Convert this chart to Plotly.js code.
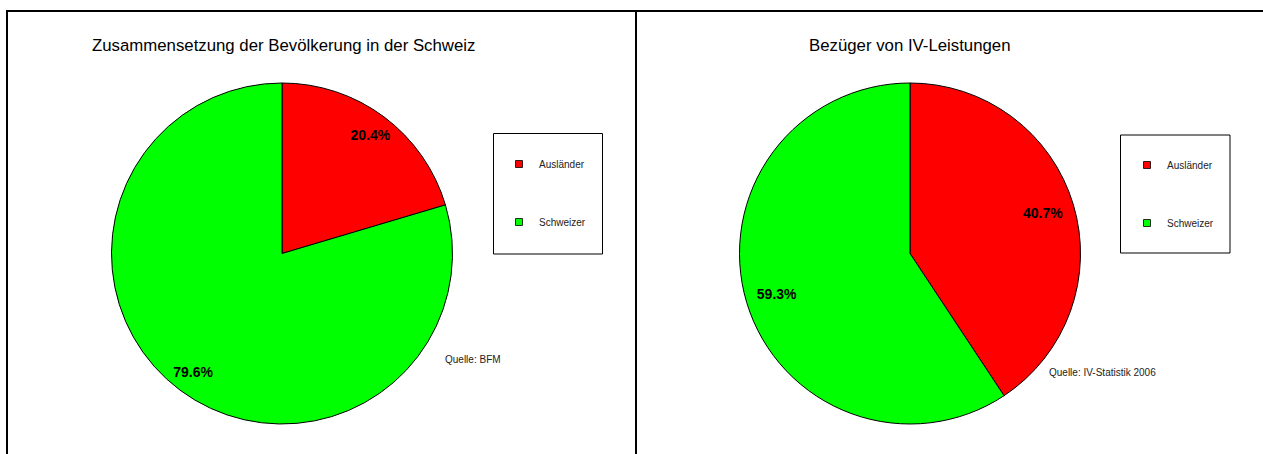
<!DOCTYPE html>
<html>
<head>
<meta charset="utf-8">
<script src="https://cdn.plot.ly/plotly-3.0.1.min.js"></script>
<style>html,body{margin:0;padding:0;background:#fff;}#chart{width:1263px;height:454px;}</style>
</head>
<body>
<div id="chart"></div>
<script>
// ---- data ----
const categories = ['Ausländer', 'Schweizer'];
const populationShares = [20.4, 79.6];
const ivShares = [40.7, 59.3];
const titles = ['Zusammensetzung der Bevölkerung in der Schweiz', 'Bezüger von IV-Leistungen'];
const sources = ['Quelle: BFM', 'Quelle: IV-Statistik 2006'];

// ---- style ----
const sliceColors = ['#FF0000', '#00FF00'];
const W = 1263, H = 454;
const px = v => v / W;
const py = v => 1 - v / H;
const FONT = 'Liberation Sans, Arial, sans-serif';

function pieDomain(cx, cy, r) {
  return { x: [px(cx - r), px(cx + r)], y: [py(cy + r), py(cy - r)] };
}
const domLeft = pieDomain(282, 253.5, 170.5);
const domRight = pieDomain(910, 253.5, 170.5);

function pieTrace(values, dom) {
  return {
    type: 'pie', labels: categories, values: values, domain: dom,
    sort: false, direction: 'clockwise', rotation: 0,
    marker: { colors: sliceColors, line: { color: '#000', width: 1 } },
    textinfo: 'none', hoverinfo: 'label+percent', showlegend: false
  };
}
function labelRing(values, dom, hole) {
  return {
    type: 'pie', labels: categories, values: values, domain: dom,
    sort: false, direction: 'clockwise', rotation: 0, hole: hole,
    marker: { colors: ['rgba(0,0,0,0)', 'rgba(0,0,0,0)'], line: { width: 0 } },
    texttemplate: '%{percent:.1%}', textposition: 'inside',
    insidetextorientation: 'horizontal',
    textfont: { family: FONT, size: 14, color: '#000', weight: 'bold' },
    hoverinfo: 'skip', showlegend: false
  };
}
function legendDummy(name, color, legendId, group) {
  return {
    type: 'scatter', mode: 'markers', x: [null], y: [null], name: name,
    legend: legendId, legendgroup: group,
    marker: { symbol: 'square', size: 7, color: color, line: { color: '#000', width: 0.8 } },
    hoverinfo: 'skip'
  };
}

const data = [
  pieTrace(populationShares, domLeft),
  labelRing(populationShares, domLeft, 0.74),
  pieTrace(ivShares, domRight),
  labelRing(ivShares, domRight, 0.63),
  legendDummy(categories[0], sliceColors[0], 'legend', 'l0'),
  legendDummy(categories[1], sliceColors[1], 'legend', 'l1'),
  legendDummy(categories[0], sliceColors[0], 'legend2', 'r0'),
  legendDummy(categories[1], sliceColors[1], 'legend2', 'r1')
];

const legendCommon = {
  font: { family: FONT, size: 10, color: '#222' },
  bgcolor: 'rgba(0,0,0,0)', borderwidth: 0,
  traceorder: 'grouped', tracegroupgap: 39,
  xanchor: 'left', yanchor: 'top'
};

const layout = {
  width: W, height: H,
  margin: { l: 0, r: 0, t: 0, b: 0 },
  paper_bgcolor: '#fff', plot_bgcolor: '#fff',
  xaxis: { visible: false }, yaxis: { visible: false },
  showlegend: true,
  legend: Object.assign({}, legendCommon, { x: px(499), y: py(149.5) }),
  legend2: Object.assign({}, legendCommon, { x: px(1127), y: py(150.5) }),
  annotations: [
    { text: titles[0], x: px(283), y: py(45), xref: 'paper', yref: 'paper', showarrow: false,
      font: { family: FONT, size: 16.8, color: '#000' }, xanchor: 'center', yanchor: 'middle' },
    { text: titles[1], x: px(909.5), y: py(45), xref: 'paper', yref: 'paper', showarrow: false,
      font: { family: FONT, size: 16.8, color: '#000' }, xanchor: 'center', yanchor: 'middle' },
    { text: sources[0], x: px(443), y: py(359), xref: 'paper', yref: 'paper', showarrow: false,
      font: { family: FONT, size: 10, color: '#222' }, xanchor: 'left', yanchor: 'middle' },
    { text: sources[1], x: px(1047), y: py(372), xref: 'paper', yref: 'paper', showarrow: false,
      font: { family: FONT, size: 10, color: '#222' }, xanchor: 'left', yanchor: 'middle' }
  ],
  shapes: [
    { type: 'line', xref: 'paper', yref: 'paper', x0: px(6), x1: 1, y0: py(11), y1: py(11), line: { color: '#000', width: 2 } },
    { type: 'line', xref: 'paper', yref: 'paper', x0: px(7), x1: px(7), y0: py(10), y1: 0, line: { color: '#000', width: 2 } },
    { type: 'line', xref: 'paper', yref: 'paper', x0: px(636), x1: px(636), y0: py(10), y1: 0, line: { color: '#000', width: 2 } },
    { type: 'rect', xref: 'paper', yref: 'paper', x0: px(493.5), x1: px(602.5), y0: py(254), y1: py(133.5), line: { color: '#000', width: 1 } },
    { type: 'rect', xref: 'paper', yref: 'paper', x0: px(1120.5), x1: px(1230), y0: py(253), y1: py(135), line: { color: '#000', width: 1 } }
  ]
};

Plotly.newPlot('chart', data, layout, { displayModeBar: false, staticPlot: true });
</script>
</body>
</html>
